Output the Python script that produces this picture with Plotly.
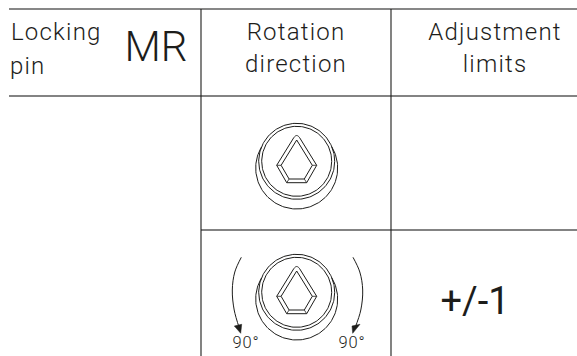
import numpy as np
import plotly.graph_objects as go

W, H = 577, 356
INK = "#1d1d1b"
FONT = "Roboto"

# table rules
rule_h_y = [9, 96, 230]
rule_h_x0 = [9, 9, 201]
rule_h_color = ["#111111", "#5a5a5a", "#5a5a5a"]
rule_h_width = [1.2, 1.6, 1.4]
rule_v_x = [201, 391]

# header and body text
labels = ["Locking", "pin", "MR", "Rotation", "direction", "Adjustment", "limits", "+/-1", "90°", "90°"]
label_x = [11, 10, 156, 296, 296, 495, 495, 475, 246, 352]
label_y = [34, 68, 50, 34, 66, 34, 66, 304, 344, 344]
label_size = [24, 24, 42, 24, 24, 24, 24, 38, 16.5, 16.5]
label_weight = [300, 300, 300, 300, 300, 300, 300, 400, 300, 300]
label_anchor = ["middle right", "middle right", "middle center", "middle center", "middle center",
                "middle center", "middle center", "middle center", "middle center", "middle center"]

# knob drawing
knob_cx = 296.7
knob_cy = [161.3, 292.3]
ring_r = [38, 35]
base_dy = 6.7
base_r = 41
base_start_deg = -31
outer_dx = [3, 20, 10, -10, -20, -3]
outer_dy = [-23.5, 4, 21.4, 21.4, 4, -23.5]
inner_dx = [0, 15.6, 7.6, -7.6, -15.6, 0]
inner_dy = [-21.3, 4, 17.7, 17.7, 4, -21.3]
cap_dx = [-3, -1.5, 0, 1.5, 3]
cap_dy = [-23.5, -25.2, -25.8, -25.2, -23.5]

# rotation arrows
arc_left_x = [241.3, 234.8, 232.3, 234.2, 239.3]
arc_right_x = [353, 359.8, 362.7, 360.8, 355]
arc_y = [257.3, 272, 290, 310, 328]
head_left_x = [234.3, 241.7, 240.7, 234.3]
head_right_x = [352, 360, 352.7, 352]
head_y = [326, 324.3, 333.3, 326]

fig = go.Figure()


def line(x, y, width=1.0, shape="linear", fill=None, color=INK):
    fig.add_trace(go.Scatter(
        x=x, y=y, mode="lines", hoverinfo="skip", showlegend=False,
        line=dict(color=color, width=width, shape=shape),
        fill=fill, fillcolor=INK if fill else None,
    ))


for y, x0, c, w in zip(rule_h_y, rule_h_x0, rule_h_color, rule_h_width):
    line([x0, W], [y, y], w, color=c)
for x in rule_v_x:
    line([x, x], [rule_h_y[0], H], 1.1)

for cy in knob_cy:
    t = np.radians(np.linspace(0, 360, 181))
    for r in ring_r:
        line(knob_cx + r * np.cos(t), cy + r * np.sin(t))
    t = np.radians(np.linspace(base_start_deg, 180 - base_start_deg, 121))
    line(knob_cx + base_r * np.cos(t), cy + base_dy + base_r * np.sin(t))
    line([knob_cx + d for d in outer_dx], [cy + d for d in outer_dy])
    line([knob_cx + d for d in inner_dx], [cy + d for d in inner_dy])
    line([knob_cx + d for d in cap_dx], [cy + d for d in cap_dy], 0.9, "spline")
    for i in (1, 2, 3, 4):
        line([knob_cx + outer_dx[i], knob_cx + inner_dx[i]], [cy + outer_dy[i], cy + inner_dy[i]], 0.8)

line(arc_left_x, arc_y, 1.0, "spline")
line(arc_right_x, arc_y, 1.0, "spline")
line(head_left_x, head_y, 0.5, fill="toself")
line(head_right_x, head_y, 0.5, fill="toself")

fig.add_trace(go.Scatter(
    x=label_x, y=label_y, mode="text", text=labels, textposition=label_anchor,
    textfont=dict(family=FONT, size=label_size, color=INK, weight=label_weight),
    hoverinfo="skip", showlegend=False, cliponaxis=False,
))

axis = dict(visible=False, fixedrange=True)
fig.update_layout(
    width=W, height=H, margin=dict(l=0, r=0, t=0, b=0),
    paper_bgcolor="white", plot_bgcolor="white",
    xaxis=dict(range=[0, W], **axis), yaxis=dict(range=[H, 0], **axis),
)
fig.write_html("out.html", config={"displayModeBar": False},
               post_script="document.body.style.margin='0';document.documentElement.style.overflow='hidden';"
                           "document.querySelectorAll('.textpoint text').forEach(function(e){"
                           "if(parseFloat(e.style.fontSize)<30){e.style.letterSpacing='.05em';}});")
